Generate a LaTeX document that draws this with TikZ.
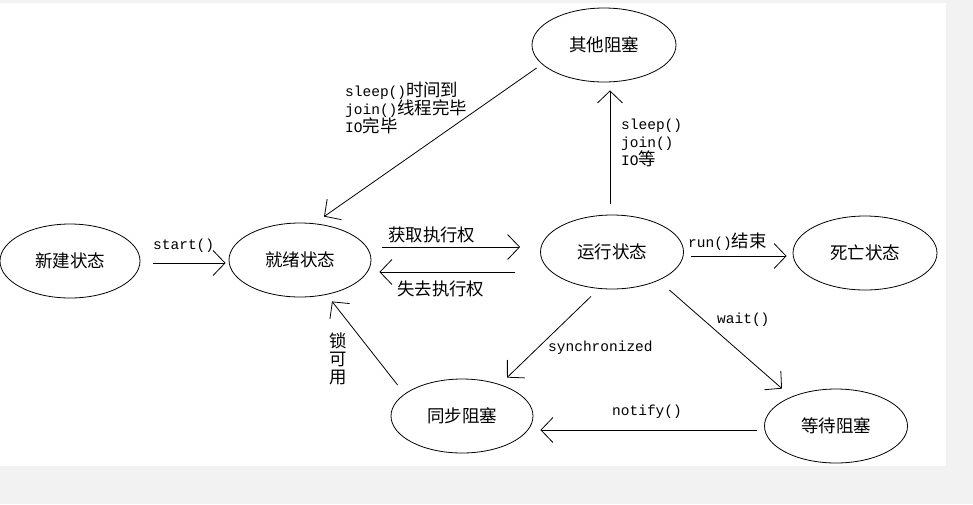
\documentclass[tikz,border=0pt]{standalone}
\usepackage{fontspec}
\setmonofont{Liberation Mono}
\newfontfamily\cjk[Scale=1.2]{Noto Sans CJK SC}
\newfontfamily\cjknode{Noto Sans CJK SC}
\usetikzlibrary{shapes.geometric,arrows.meta}
\newcommand\zhc[1]{{\cjk #1}}
\definecolor{bggray}{HTML}{F2F2F2}
\begin{document}
\begin{tikzpicture}[x=1pt,y=-1pt,
  st/.style={draw, ellipse, line width=0.8pt, minimum width=142pt, minimum height=74pt, inner sep=0pt, font=\fontsize{17.5}{20}\selectfont\cjknode},
  arr/.style={line width=0.8pt, -{Straight Barb[length=12pt,width=25pt]}},
  lbl/.style={inner sep=0pt, font=\fontsize{14.5}{18}\selectfont\ttfamily, align=left}]
% background
\fill[bggray] (0,0) rectangle (973,504);
\fill[white] (0,3) rectangle (946,466);
\useasboundingbox (0,0) rectangle (973,504);
% states
\node[st, minimum width=140pt] (new) at (70,261) {新建状态};
\node[st] (ready) at (300,260) {就绪状态};
\node[st, minimum width=143pt] (run) at (612,252) {运行状态};
\node[st, minimum width=144pt] (dead) at (865,253) {死亡状态};
\node[st, minimum width=144pt] (other) at (604,45) {其他阻塞};
\node[st] (sync) at (462,416) {同步阻塞};
\node[st, minimum width=143pt] (wait) at (836,426) {等待阻塞};
% connectors
\draw[arr] ([xshift=13pt,yshift=-2pt]new.east) -- ([xshift=-3pt,yshift=-3pt]ready.west);
\draw[arr] ([xshift=11pt,yshift=13pt]ready.east) -- ([xshift=-20pt,yshift=5pt]run.west);
\draw[arr] ([xshift=-25pt,yshift=-20pt]run.west) -- ([xshift=8pt,yshift=-12pt]ready.east);
\draw[arr] ([xshift=7.5pt,yshift=-4pt]run.east) -- ([xshift=-6pt,yshift=-3pt]dead.west);
\draw[arr] ([xshift=-2pt,yshift=11pt]run.north) -- ([xshift=6pt,yshift=-8pt]other.south);
\draw[arr] ([xshift=5pt,yshift=-23pt]other.west) -- ([xshift=24pt,yshift=6pt]ready.north);
\draw[arr] ([xshift=7pt,yshift=31pt]sync.west) -- ([xshift=32pt,yshift=-4pt]ready.south);
\draw[arr] ([xshift=-21pt,yshift=-7pt]run.south) -- ([xshift=45pt,yshift=1pt]sync.north);
\draw[arr] ([xshift=-14.5pt,yshift=-38pt]run.east) -- ([xshift=-54pt,yshift=0pt]wait.north);
\draw[arr] ([xshift=-7.5pt,yshift=-4pt]wait.west) -- ([xshift=7pt,yshift=-14pt]sync.east);
% labels
\node[lbl, anchor=west] (lstart) at (153,246) {start()};
\node[lbl, anchor=west] (lget) at (388,235) {\zhc{获取执行权}};
\node[lbl, anchor=west] (llose) at (397,289) {\zhc{失去执行权}};
\node[lbl, anchor=west] (lrun) at (688,242) {run()\zhc{结束}};
\node[lbl, anchor=north west] (lsleep) at (621,119) {sleep()\\join()\\IO\zhc{等}};
\node[lbl, anchor=north west] (lback) at (345,82) {sleep()\zhc{时间到}\\join()\zhc{线程完毕}\\IO\zhc{完毕}};
\node[lbl, anchor=north, align=center] (llock) at (338,333) {\zhc{锁}\\\zhc{可}\\\zhc{用}};
\node[lbl, anchor=west] (lsync) at (548,348) {synchronized};
\node[lbl, anchor=west] (lwait) at (717,320) {wait()};
\node[lbl, anchor=west] (lnotify) at (612,412) {notify()};
\end{tikzpicture}
\end{document}
